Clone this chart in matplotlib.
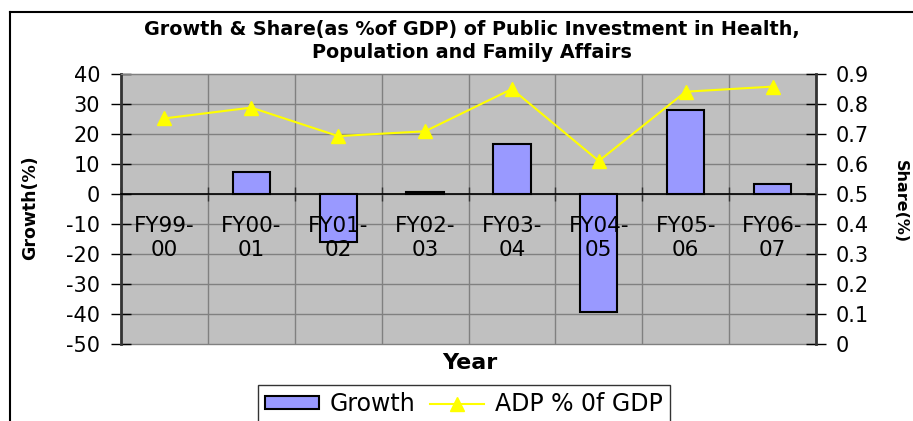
import matplotlib
matplotlib.use("Agg")
import matplotlib.pyplot as plt
from matplotlib.lines import Line2D
import numpy as np

plt.rcParams["axes.unicode_minus"] = False

years = ["FY99-\n00", "FY00-\n01", "FY01-\n02", "FY02-\n03",
         "FY03-\n04", "FY04-\n05", "FY05-\n06", "FY06-\n07"]
growth = [np.nan, 7.2, -16.1, 0.5, 16.8, -39.4, 27.9, 3.4]
share = [0.752, 0.788, 0.693, 0.709, 0.850, 0.610, 0.841, 0.858]

W, H = 913, 421
fig = plt.figure(figsize=(W / 100, H / 100), dpi=100)
fig.patch.set_facecolor("white")

ax = fig.add_axes([121 / W, 1 - 344 / H, (816 - 121) / W, (344 - 74) / H])
ax.set_facecolor("#C0C0C0")

x = np.arange(len(years))
ax.bar(x, growth, width=0.43, color="#9999FF", edgecolor="black",
       linewidth=1.5, zorder=3, label="Growth")

ax.set_xlim(-0.5, len(years) - 0.5)
ax.set_ylim(-50, 40)
ax.set_yticks(np.arange(-50, 41, 10))

# category boundaries as ticks; labels written over the bars like Excel does
ax.set_xticks(np.arange(-0.5, len(years), 1.0))
ax.set_xticklabels([])
ax.tick_params(axis="x", direction="inout", length=10, width=1,
               color="#333333")
for i, lab in enumerate(years):
    ax.text(x[i], -7.2, lab, ha="center", va="top", fontsize=15.5,
            linespacing=1.3, multialignment="center", zorder=10)

ax.tick_params(axis="y", direction="inout", length=14, width=1,
               labelsize=15, pad=8)

ax.grid(True, which="major", color="#808080", linewidth=1, zorder=0)
ax.set_axisbelow(True)
for gl in ax.get_ygridlines():
    gl.set_clip_on(False)

ax.spines["bottom"].set_position(("data", 0))
ax.spines["bottom"].set_color("black")
ax.spines["bottom"].set_linewidth(1.2)
ax.spines["bottom"].set_zorder(4)
ax.spines["top"].set_color("#808080")
ax.spines["left"].set_color("#333333")
ax.spines["left"].set_linewidth(2)
ax.spines["right"].set_visible(False)

ax2 = ax.twinx()
ax2.plot(x, share, color="#FFFF00", linewidth=1.5, marker="^",
         markersize=10, markerfacecolor="#FFFF00", markeredgecolor="#FFFF00",
         zorder=5, label="ADP % 0f GDP")
ax2.set_ylim(0, 0.9)
ax2.set_yticks(np.arange(0, 0.91, 0.1))
ax2.set_yticklabels([f"{v:g}" for v in np.round(np.arange(0, 0.91, 0.1), 1)])
ax2.tick_params(axis="y", direction="inout", length=14, width=1,
                labelsize=15, pad=7)
for s in ["top", "bottom", "left"]:
    ax2.spines[s].set_visible(False)
ax2.spines["right"].set_color("#333333")
ax2.spines["right"].set_linewidth(2)

fig.text(472 / W, 1 - 30 / H,
         "Growth & Share(as %of GDP) of Public Investment in Health,",
         ha="center", va="center", fontsize=13.8, fontweight="bold")
fig.text(472 / W, 1 - 53 / H, "Population and Family Affairs",
         ha="center", va="center", fontsize=13.8, fontweight="bold")
fig.text(30 / W, 1 - 208 / H, "Growth(%)", rotation=90, ha="center",
         va="center", fontsize=12.5, fontweight="bold")
fig.text(900 / W, 1 - 202 / H, "Share(%)", rotation=270, ha="center",
         va="center", fontsize=11.5, fontweight="bold")
fig.text(470 / W, 1 - 363 / H, "Year", ha="center", va="center",
         fontsize=16, fontweight="bold")

# outer chart border (left and top visible, rest runs off the image)
fig.add_artist(Line2D([10 / W, 10 / W], [0, 1 - 12 / H], color="black",
                      linewidth=1.5, transform=fig.transFigure))
fig.add_artist(Line2D([10 / W, 1], [1 - 12 / H, 1 - 12 / H], color="black",
                      linewidth=1.5, transform=fig.transFigure))

h1, l1 = ax.get_legend_handles_labels()
h2, l2 = ax2.get_legend_handles_labels()
leg = fig.legend(h1 + h2, l1 + l2, loc="upper left",
                 bbox_to_anchor=(258 / W, 1 - 385 / H), ncol=2,
                 fontsize=17, frameon=True, fancybox=False,
                 edgecolor="black", handlelength=2.3, handleheight=0.5,
                 columnspacing=0.6, handletextpad=0.45, borderpad=0.3,
                 borderaxespad=0)
leg.get_frame().set_linewidth(1)

fig.savefig("out.png", dpi=100)
